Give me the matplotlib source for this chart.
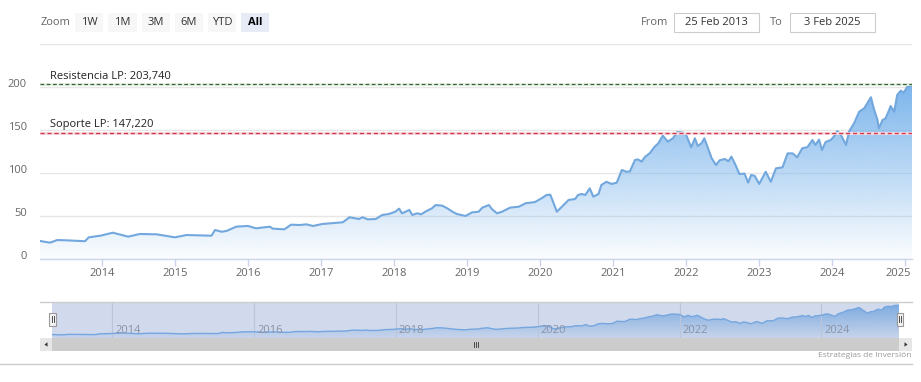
import matplotlib
matplotlib.use('Agg')
import matplotlib.pyplot as plt
import numpy as np
from matplotlib.patches import Rectangle, PathPatch, Polygon
from matplotlib.lines import Line2D
from matplotlib.transforms import ScaledTranslation, blended_transform_factory
from matplotlib.colors import to_rgb

plt.rcParams['font.family'] = ['Open Sans', 'DejaVu Sans']

W, H = 921, 382

# ---------------- data (decimal years, price) ----------------
years = [2013.153, 2013.29, 2013.39, 2013.52, 2013.77, 2013.82, 2013.98, 2014.15, 2014.36, 2014.52,
         2014.75, 2015.00, 2015.16, 2015.50, 2015.55, 2015.64, 2015.71, 2015.84, 2016.00, 2016.11,
         2016.30, 2016.34, 2016.50, 2016.59, 2016.71, 2016.80, 2016.89, 2017.02, 2017.30, 2017.39,
         2017.52, 2017.57, 2017.64, 2017.75, 2017.84, 2017.93, 2018.02, 2018.07, 2018.11, 2018.21,
         2018.25, 2018.32, 2018.37, 2018.43, 2018.52, 2018.57, 2018.66, 2018.73, 2018.80, 2018.86,
         2018.98, 2019.07, 2019.16, 2019.21, 2019.30, 2019.34, 2019.41, 2019.48, 2019.59, 2019.71,
         2019.80, 2019.93, 2020.02, 2020.09, 2020.14, 2020.16, 2020.23, 2020.30, 2020.39, 2020.48,
         2020.52, 2020.57, 2020.62, 2020.68, 2020.73, 2020.80, 2020.84, 2020.91, 2020.98, 2021.05,
         2021.12, 2021.18, 2021.23, 2021.30, 2021.34, 2021.39, 2021.44, 2021.50, 2021.57, 2021.62,
         2021.68, 2021.75, 2021.82, 2021.88, 2021.96, 2022.00, 2022.07, 2022.12, 2022.16, 2022.21,
         2022.25, 2022.30, 2022.35, 2022.41, 2022.46, 2022.53, 2022.58, 2022.62, 2022.67, 2022.73,
         2022.80, 2022.85, 2022.89, 2022.94, 2023.00, 2023.09, 2023.16, 2023.23, 2023.32, 2023.39,
         2023.46, 2023.52, 2023.59, 2023.66, 2023.73, 2023.77, 2023.82, 2023.86, 2023.91, 2023.98,
         2024.03, 2024.07, 2024.12, 2024.19, 2024.23, 2024.30, 2024.37, 2024.44, 2024.53, 2024.57,
         2024.62, 2024.64, 2024.69, 2024.73, 2024.78, 2024.80, 2024.85, 2024.89, 2024.94, 2024.98,
         2025.03, 2025.093]
values = [21.3, 19.3, 22.4, 22.0, 21.0, 25.5, 27.4, 30.9, 26.3, 29.4,
          29.0, 25.5, 28.2, 27.4, 34.0, 32.0, 33.0, 37.9, 38.7, 36.0,
          37.9, 35.6, 34.8, 40.2, 39.8, 40.6, 38.7, 41.0, 43.0, 48.8,
          46.8, 48.8, 46.4, 46.8, 51.5, 52.6, 55.3, 58.8, 53.4, 57.3,
          51.5, 53.4, 52.2, 55.3, 59.2, 63.0, 62.3, 59.2, 55.3, 52.6,
          50.3, 54.5, 55.3, 60.0, 63.0, 58.4, 53.4, 55.3, 60.0, 61.1,
          65.0, 66.5, 70.8, 74.7, 75.0, 70.8, 55.3, 61.1, 68.9, 70.0,
          74.7, 75.8, 74.7, 82.4, 72.7, 75.8, 86.3, 90.0, 87.5, 89.0,
          103.7, 101.7, 102.0, 115.3, 116.0, 113.4, 119.2, 123.0, 130.8, 134.7,
          143.6, 136.6, 140.6, 147.8, 147.0, 144.4, 130.0, 140.5, 131.6, 134.7,
          140.5, 128.9, 117.3, 109.5, 115.0, 116.5, 113.8, 119.2, 110.7, 99.0,
          99.5, 89.0, 97.9, 96.9, 87.5, 101.7, 90.0, 105.6, 106.8, 123.0,
          123.0, 118.4, 128.9, 130.2, 138.5, 132.7, 139.0, 126.9, 136.2, 138.5,
          143.2, 149.0, 144.4, 132.7, 148.2, 158.0, 171.4, 175.4, 188.2, 175.0,
          161.8, 152.0, 161.8, 163.5, 173.4, 178.0, 171.4, 190.8, 195.8, 193.5,
          200.5, 202.0]

x_start, x_end = 2013.153, 2025.093
y_ticks = [0, 50, 100, 150, 200, 250]
y_tick_labels = ['0', '50', '100', '150', '200', '']
x_ticks = list(range(2014, 2026))
nav_ticks = [2014, 2016, 2018, 2020, 2022, 2024]
resistance = 203.74
support = 147.22
resistance_label = 'Resistencia LP: 203,740'
support_label = 'Soporte LP: 147,220'
zoom_buttons = ['1W', '1M', '3M', '6M', 'YTD', 'All']
selected_button = 'All'
from_date = '25 Feb 2013'
to_date = '3 Feb 2025'
credits = 'Estrategias de Inversión'

SERIES = '#7cb5ec'
LINE = '#72a8de'

fig = plt.figure(figsize=(W / 100, H / 100), dpi=100)


def fx(x):
    return x / W


def fy(y):
    return 1 - y / H


def frect(x0, y0, x1, y1, **kw):
    r = Rectangle((fx(x0), fy(y1)), (x1 - x0) / W, (y1 - y0) / H,
                  transform=fig.transFigure, **kw)
    fig.add_artist(r)
    return r


def fline(x0, y0, x1, y1, **kw):
    fig.add_artist(Line2D([fx(x0), fx(x1)], [fy(y0), fy(y1)], transform=fig.transFigure, **kw))


def gradient_fill(a, x, y, color, top_alpha=1.0, bottom_alpha=0.03):
    rgb = to_rgb(color)
    n = 256
    grad = np.zeros((n, 1, 4))
    grad[:, :, :3] = rgb
    grad[:, 0, 3] = np.linspace(top_alpha, bottom_alpha, n)
    im = a.imshow(grad, aspect='auto', extent=[min(x), max(x), 0, max(y)],
                  origin='upper', zorder=1, interpolation='bilinear')
    poly = a.fill_between(x, y, 0, facecolor='none', edgecolor='none')
    path = poly.get_paths()[0]
    patch = PathPatch(path, transform=a.transData, facecolor='none', edgecolor='none')
    a.add_patch(patch)
    im.set_clip_path(patch)


# ---------------- main chart ----------------
ax = fig.add_axes([fx(40), fy(259.3), (912 - 40) / W, (259.3 - 44) / H])
gradient_fill(ax, years, values, SERIES)
ax.plot(years, values, color=LINE, lw=1.5, zorder=3, solid_joinstyle='round')
ax.set_xlim(x_start, x_end)
ax.set_ylim(0, 250)
for s in ['top', 'right', 'left']:
    ax.spines[s].set_visible(False)
ax.spines['bottom'].set_color('#ccd6eb')
ax.spines['bottom'].set_linewidth(1)
ax.set_yticks(y_ticks)
ax.set_yticklabels(y_tick_labels)
ax.set_xticks(x_ticks)
ax.set_xticklabels([str(t) for t in x_ticks])
ax.tick_params(axis='y', length=0, pad=9.5, labelsize=8, labelcolor='#666666')
ax.tick_params(axis='x', length=5, width=1, color='#ccd6eb', pad=1.5,
               labelsize=8, labelcolor='#666666')
ax.grid(axis='y', color='#e6e6e6', lw=1)
ax.set_axisbelow(True)
for lab in ax.get_yticklabels():
    lab.set_transform(lab.get_transform() + ScaledTranslation(0, 4.5 / 100, fig.dpi_scale_trans))
xl = ax.get_xticklabels()
xl[-1].set_transform(xl[-1].get_transform() + ScaledTranslation(-7 / 100, 0, fig.dpi_scale_trans))

# plot lines
ax.axhline(resistance, color='#e3f2e3', lw=2.0, zorder=4)
ax.axhline(resistance, color='#3a633a', lw=0.9, ls=(0, (3, 2)), zorder=5)
ax.axhline(support, color='#f7dde1', lw=2.0, zorder=4)
ax.axhline(support, color='#d23a50', lw=1.0, ls=(0, (3, 2)), zorder=5)
blend = blended_transform_factory(fig.transFigure, ax.transData)
ax.text(fx(50), resistance + 2.5, resistance_label, transform=blend,
        fontsize=8, color='#222222', va='bottom', ha='left', zorder=6)
ax.text(fx(50), support + 2.5, support_label, transform=blend,
        fontsize=8, color='#222222', va='bottom', ha='left', zorder=6)

# ---------------- range selector ----------------
fig.text(fx(41), fy(22.5), 'Zoom', fontsize=8, color='#666666', ha='left', va='center')
btn_pos = [(75, 103), (108, 137), (142, 170), (175, 203), (208, 236), (241, 269)]
for label, (b0, b1) in zip(zoom_buttons, btn_pos):
    sel = label == selected_button
    frect(b0, 13.3, b1, 31.7, facecolor='#e6ebf5' if sel else '#f7f7f7', edgecolor='none')
    fig.text(fx((b0 + b1) / 2), fy(22.5), label, fontsize=8, color='#333333' if not sel else '#000000',
             ha='center', va='center', fontweight='bold' if sel else 'normal')

fig.text(fx(641), fy(22.5), 'From', fontsize=8, color='#666666', ha='left', va='center')
fig.text(fx(770), fy(22.5), 'To', fontsize=8, color='#666666', ha='left', va='center')
frect(674, 13.3, 759, 32.3, facecolor='white', edgecolor='#cccccc', lw=0.8)
frect(790, 13.3, 875, 32.3, facecolor='white', edgecolor='#cccccc', lw=0.8)
fig.text(fx(716.5), fy(22.5), from_date, fontsize=8, color='#333333', ha='center', va='center')
fig.text(fx(832.5), fy(22.5), to_date, fontsize=8, color='#333333', ha='center', va='center')

# ---------------- navigator ----------------
nav = fig.add_axes([fx(52), fy(338), (899 - 52) / W, 36 / H])
nav.set_facecolor('white')
gradient_fill(nav, years, values, SERIES, top_alpha=0.9, bottom_alpha=0.1)
nav.plot(years, values, color=SERIES, lw=1.0, zorder=3)
nav.set_xlim(x_start, x_end)
nav.set_ylim(0, 222)
nav.set_xticks([])
nav.set_yticks([])
for s in nav.spines.values():
    s.set_visible(False)
for t in nav_ticks:
    nav.axvline(t, color='#e2e2e2', lw=0.8, zorder=2)
    nav.text(t, 0.22, str(t), transform=blended_transform_factory(nav.transData, nav.transAxes)
             + ScaledTranslation(3 / 100, 0, fig.dpi_scale_trans),
             fontsize=8, color='#999999', ha='left', va='center', zorder=4)
nav.add_patch(Rectangle((0, 0), 1, 1, transform=nav.transAxes,
                        facecolor=(102 / 255, 133 / 255, 194 / 255, 0.3), edgecolor='none', zorder=5))

fline(40, 302, 912, 302, color='#cccccc', lw=1)

# handles
for h0, h1 in [(49, 56), (896.5, 903)]:
    frect(h0, 312.7, h1, 325.5, facecolor='#f2f2f2', edgecolor='#999999', lw=0.8, zorder=10)
    cx = (h0 + h1) / 2
    fline(cx - 1, 316, cx - 1, 322, color='#333333', lw=0.6, zorder=11)
    fline(cx + 1, 316, cx + 1, 322, color='#333333', lw=0.6, zorder=11)

# scrollbar
frect(40, 338, 912, 351, facecolor='#f2f2f2', edgecolor='none')
frect(52, 338, 899, 351, facecolor='#cccccc', edgecolor='none')
frect(40, 338, 52, 351, facecolor='#e6e6e6', edgecolor='none')
frect(899, 338, 912, 351, facecolor='#e6e6e6', edgecolor='none')
fig.add_artist(Polygon([(fx(44.5), fy(344.5)), (fx(47.5), fy(342.3)), (fx(47.5), fy(346.7))],
                       closed=True, transform=fig.transFigure, facecolor='#333333', edgecolor='none'))
fig.add_artist(Polygon([(fx(907.5), fy(344.5)), (fx(904.5), fy(342.3)), (fx(904.5), fy(346.7))],
                       closed=True, transform=fig.transFigure, facecolor='#333333', edgecolor='none'))
for gx in (473.5, 475.5, 477.5):
    fline(gx, 342, gx, 347, color='#333333', lw=0.6)

# bottom separator and credits
fline(0, 364, 912, 364, color='#cccccc', lw=1)
fig.text(fx(911), fy(355.5), credits, fontsize=6.0, color='#999999', ha='right', va='center')

fig.savefig('out.png', dpi=100)
